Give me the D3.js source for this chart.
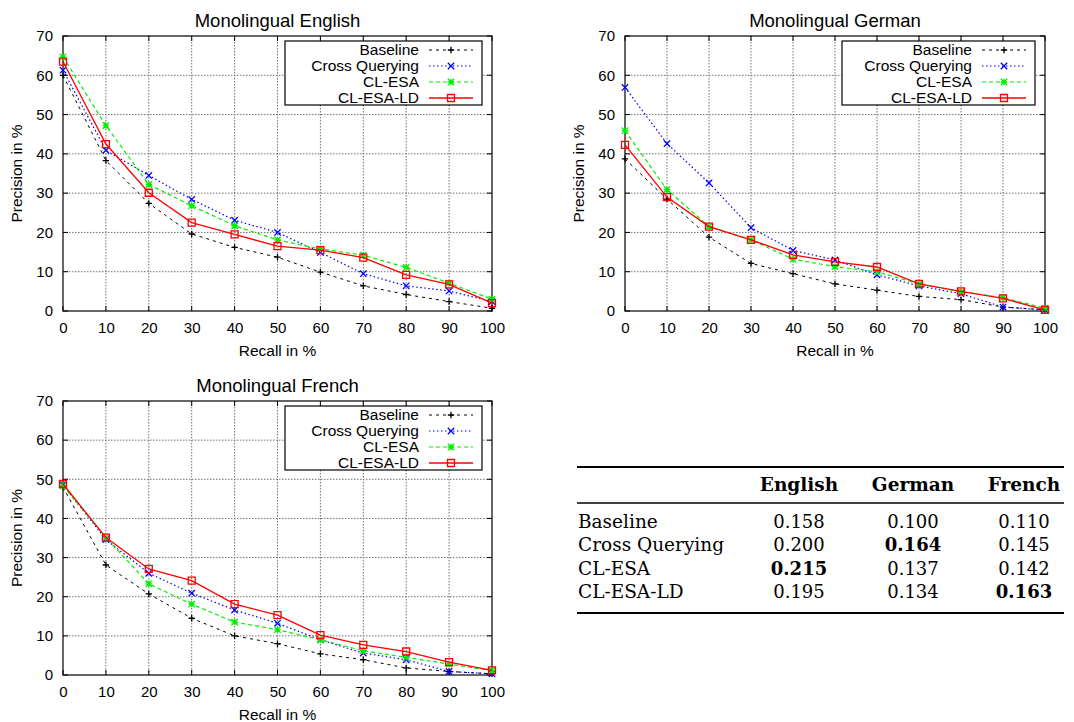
<!DOCTYPE html>
<html><head><meta charset="utf-8">
<script src="https://cdn.jsdelivr.net/npm/d3@7"></script>
<style>body{margin:0;background:#fff} svg{display:block}</style>
</head><body>
<svg id="c" width="1074" height="722"></svg>
<script>
// ---------- data ----------
const recall = [0, 10, 20, 30, 40, 50, 60, 70, 80, 90, 100];
const precisionTicks = [0, 10, 20, 30, 40, 50, 60, 70];
const seriesNames = ["Baseline", "Cross Querying", "CL-ESA", "CL-ESA-LD"];

const englishBaseline = [60.0, 38.3, 27.4, 19.6, 16.2, 13.7, 9.9, 6.4, 4.2, 2.4, 0.7];
const englishCross    = [61.3, 40.9, 34.5, 28.4, 23.1, 20.0, 14.9, 9.5, 6.4, 5.1, 2.4];
const englishESA      = [64.7, 47.2, 32.2, 26.8, 21.7, 18.1, 15.8, 14.2, 11.1, 7.1, 3.0];
const englishESALD    = [63.5, 42.5, 30.1, 22.5, 19.5, 16.5, 15.5, 13.6, 9.2, 6.8, 2.0];

const germanBaseline  = [38.7, 28.5, 18.8, 12.1, 9.5, 6.9, 5.3, 3.7, 2.9, 1.0, 0.3];
const germanCross     = [56.9, 42.6, 32.6, 21.2, 15.4, 13.0, 9.2, 6.4, 4.4, 1.0, 0.3];
const germanESA       = [45.9, 30.9, 21.5, 18.1, 13.2, 11.3, 10.0, 6.9, 4.9, 3.4, 0.7];
const germanESALD     = [42.3, 29.0, 21.5, 18.1, 14.3, 12.5, 11.2, 6.9, 5.0, 3.2, 0.3];

const frenchBaseline  = [48.0, 28.1, 20.7, 14.5, 10.0, 8.0, 5.4, 3.9, 1.8, 0.9, 0.3];
const frenchCross     = [48.6, 34.6, 26.0, 20.9, 16.6, 13.2, 9.0, 5.6, 3.9, 0.9, 0.3];
const frenchESA       = [48.3, 35.1, 23.3, 18.1, 13.5, 11.6, 9.0, 6.2, 4.5, 2.8, 1.1];
const frenchESALD     = [48.8, 35.1, 27.1, 24.1, 18.1, 15.3, 10.2, 7.7, 6.0, 3.3, 1.2];

const tableLanguages = ["English", "German", "French"];
const englishMAP = [0.158, 0.200, 0.215, 0.195];
const germanMAP  = [0.100, 0.164, 0.137, 0.134];
const frenchMAP  = [0.110, 0.145, 0.142, 0.163];

// ---------- styles ----------
const seriesStyle = [
  {color: "#000000", dash: "3,4", marker: "plus", width: 1},
  {color: "#0000ff", dash: "1.5,2.5", marker: "cross", width: 1.2},
  {color: "#00ee00", dash: "4,3", marker: "star", width: 1.2},
  {color: "#ff0000", dash: null, marker: "square", width: 1.3}
];
const SANS = "'Liberation Sans', Arial, Helvetica, sans-serif";
const SERIF = "'DejaVu Serif', serif";

function markerPath(type) {
  const s = 3.2;
  const plus = `M${-s},0H${s}M0,${-s}V${s}`;
  const cross = `M${-s},${-s}L${s},${s}M${-s},${s}L${s},${-s}`;
  if (type === "plus") return plus;
  if (type === "cross") return cross;
  if (type === "star") return plus + cross;
  const q = 3.5;
  return `M${-q},${-q}H${q}V${q}H${-q}Z`;
}

const svg = d3.select("#c");

const panels = [
  {title: "Monolingual English", data: [englishBaseline, englishCross, englishESA, englishESALD],
   box: {left: 63, right: 492, top: 36, bottom: 311}},
  {title: "Monolingual German", data: [germanBaseline, germanCross, germanESA, germanESALD],
   box: {left: 625, right: 1045, top: 36, bottom: 311}},
  {title: "Monolingual French", data: [frenchBaseline, frenchCross, frenchESA, frenchESALD],
   box: {left: 63, right: 492, top: 401, bottom: 675}}
];

panels.forEach(p => {
  const b = p.box;
  const x = d3.scaleLinear().domain([0, 100]).range([b.left, b.right]);
  const y = d3.scaleLinear().domain([0, 70]).range([b.bottom, b.top]);
  const g = svg.append("g");

  // grid
  const grid = g.append("g").attr("stroke", "#707070").attr("stroke-width", 1)
    .attr("stroke-dasharray", "1.5,1.5");
  grid.selectAll("line.gx").data(recall.slice(1, -1)).join("line")
    .attr("x1", d => x(d)).attr("x2", d => x(d)).attr("y1", b.top).attr("y2", b.bottom);
  grid.selectAll("line.gy").data(precisionTicks.slice(1, -1)).join("line")
    .attr("class", "gy")
    .attr("x1", b.left).attr("x2", b.right).attr("y1", d => y(d)).attr("y2", d => y(d));

  // mirrored inner ticks
  const tk = g.append("g").attr("stroke", "#000").attr("stroke-width", 1);
  recall.forEach(d => {
    tk.append("line").attr("x1", x(d)).attr("x2", x(d)).attr("y1", b.bottom).attr("y2", b.bottom - 5);
    tk.append("line").attr("x1", x(d)).attr("x2", x(d)).attr("y1", b.top).attr("y2", b.top + 5);
  });
  precisionTicks.forEach(d => {
    tk.append("line").attr("x1", b.left).attr("x2", b.left + 5).attr("y1", y(d)).attr("y2", y(d));
    tk.append("line").attr("x1", b.right).attr("x2", b.right - 5).attr("y1", y(d)).attr("y2", y(d));
  });

  // axes labels via d3 axes
  const ax = g.append("g").attr("transform", `translate(0,${b.bottom})`)
    .call(d3.axisBottom(x).tickValues(recall).tickSize(0).tickPadding(11).tickFormat(d3.format("d")));
  const ay = g.append("g").attr("transform", `translate(${b.left},0)`)
    .call(d3.axisLeft(y).tickValues(precisionTicks).tickSize(0).tickPadding(10).tickFormat(d3.format("d")));
  [ax, ay].forEach(a => {
    a.select(".domain").remove();
    a.selectAll("text").attr("font-family", SANS).attr("font-size", 15).attr("fill", "#000");
  });

  // border
  g.append("rect").attr("x", b.left).attr("y", b.top)
    .attr("width", b.right - b.left).attr("height", b.bottom - b.top)
    .attr("fill", "none").attr("stroke", "#000").attr("stroke-width", 1.2);

  // title & axis titles
  g.append("text").attr("x", (b.left + b.right) / 2).attr("y", b.top - 9)
    .attr("text-anchor", "middle").attr("font-family", SANS).attr("font-size", 18.5)
    .text(p.title);
  g.append("text").attr("x", (b.left + b.right) / 2).attr("y", b.bottom + 45)
    .attr("text-anchor", "middle").attr("font-family", SANS).attr("font-size", 15.5)
    .text("Recall in %");
  g.append("text").attr("transform", `translate(${b.left - 41},${(b.top + b.bottom) / 2}) rotate(-90)`)
    .attr("text-anchor", "middle").attr("font-family", SANS).attr("font-size", 15.5)
    .text("Precision in %");

  // series
  const line = d3.line().x((d, i) => x(recall[i])).y(d => y(d));
  p.data.forEach((vals, si) => {
    const st = seriesStyle[si];
    g.append("path").attr("d", line(vals)).attr("fill", "none")
      .attr("stroke", st.color).attr("stroke-width", st.width)
      .attr("stroke-dasharray", st.dash);
    g.selectAll(null).data(vals).join("path")
      .attr("transform", (d, i) => `translate(${x(recall[i])},${y(d)})`)
      .attr("d", markerPath(st.marker)).attr("fill", "none")
      .attr("stroke", st.color).attr("stroke-width", 1.3);
  });

  // legend
  const boxW = p.box.left > 300 ? 193 : 197;
  const lr = b.right - 10, lt = b.top + 5;
  const lg = g.append("g");
  lg.append("rect").attr("x", lr - boxW).attr("y", lt).attr("width", boxW).attr("height", 64)
    .attr("fill", "#fff").attr("stroke", "#000").attr("stroke-width", 1.2);
  seriesNames.forEach((name, si) => {
    const st = seriesStyle[si];
    const cy = lt + 9 + si * 16;
    lg.append("text").attr("x", lr - 63).attr("y", cy).attr("dy", "0.35em")
      .attr("text-anchor", "end").attr("font-family", SANS).attr("font-size", 15.5).text(name);
    lg.append("line").attr("x1", lr - 53).attr("x2", lr - 9).attr("y1", cy).attr("y2", cy)
      .attr("stroke", st.color).attr("stroke-width", st.width).attr("stroke-dasharray", st.dash);
    lg.append("path").attr("transform", `translate(${lr - 31},${cy})`)
      .attr("d", markerPath(st.marker)).attr("fill", "none")
      .attr("stroke", st.color).attr("stroke-width", 1.3);
  });
});

// ---------- table ----------
const tbl = svg.append("g");
const tLeft = 577, tRight = 1064;
const colCenters = {English: 799, German: 913, French: 1024};
const rowY = d3.scalePoint().domain(seriesNames).range([528, 598]);
const columns = [englishMAP, germanMAP, frenchMAP];

tbl.append("line").attr("x1", tLeft).attr("x2", tRight).attr("y1", 467).attr("y2", 467)
  .attr("stroke", "#000").attr("stroke-width", 2.2);
tbl.append("line").attr("x1", tLeft).attr("x2", tRight).attr("y1", 503).attr("y2", 503)
  .attr("stroke", "#000").attr("stroke-width", 1.4);
tbl.append("line").attr("x1", tLeft).attr("x2", tRight).attr("y1", 613).attr("y2", 613)
  .attr("stroke", "#000").attr("stroke-width", 2.2);

tableLanguages.forEach((lang, ci) => {
  tbl.append("text").attr("x", colCenters[lang]).attr("y", 491)
    .attr("text-anchor", "middle").attr("font-family", SERIF).attr("font-weight", "bold")
    .attr("font-size", 18.5).text(lang);
  const vals = columns[ci];
  const mx = d3.max(vals);
  vals.forEach((v, ri) => {
    tbl.append("text").attr("x", colCenters[lang]).attr("y", rowY(seriesNames[ri]))
      .attr("text-anchor", "middle").attr("font-family", SERIF)
      .attr("font-weight", v === mx ? "bold" : "normal")
      .attr("font-size", 18).text(d3.format(".3f")(v));
  });
});
seriesNames.forEach(name => {
  tbl.append("text").attr("x", tLeft + 1).attr("y", rowY(name))
    .attr("font-family", SERIF).attr("font-size", 18.5).text(name);
});
</script>
</body></html>
